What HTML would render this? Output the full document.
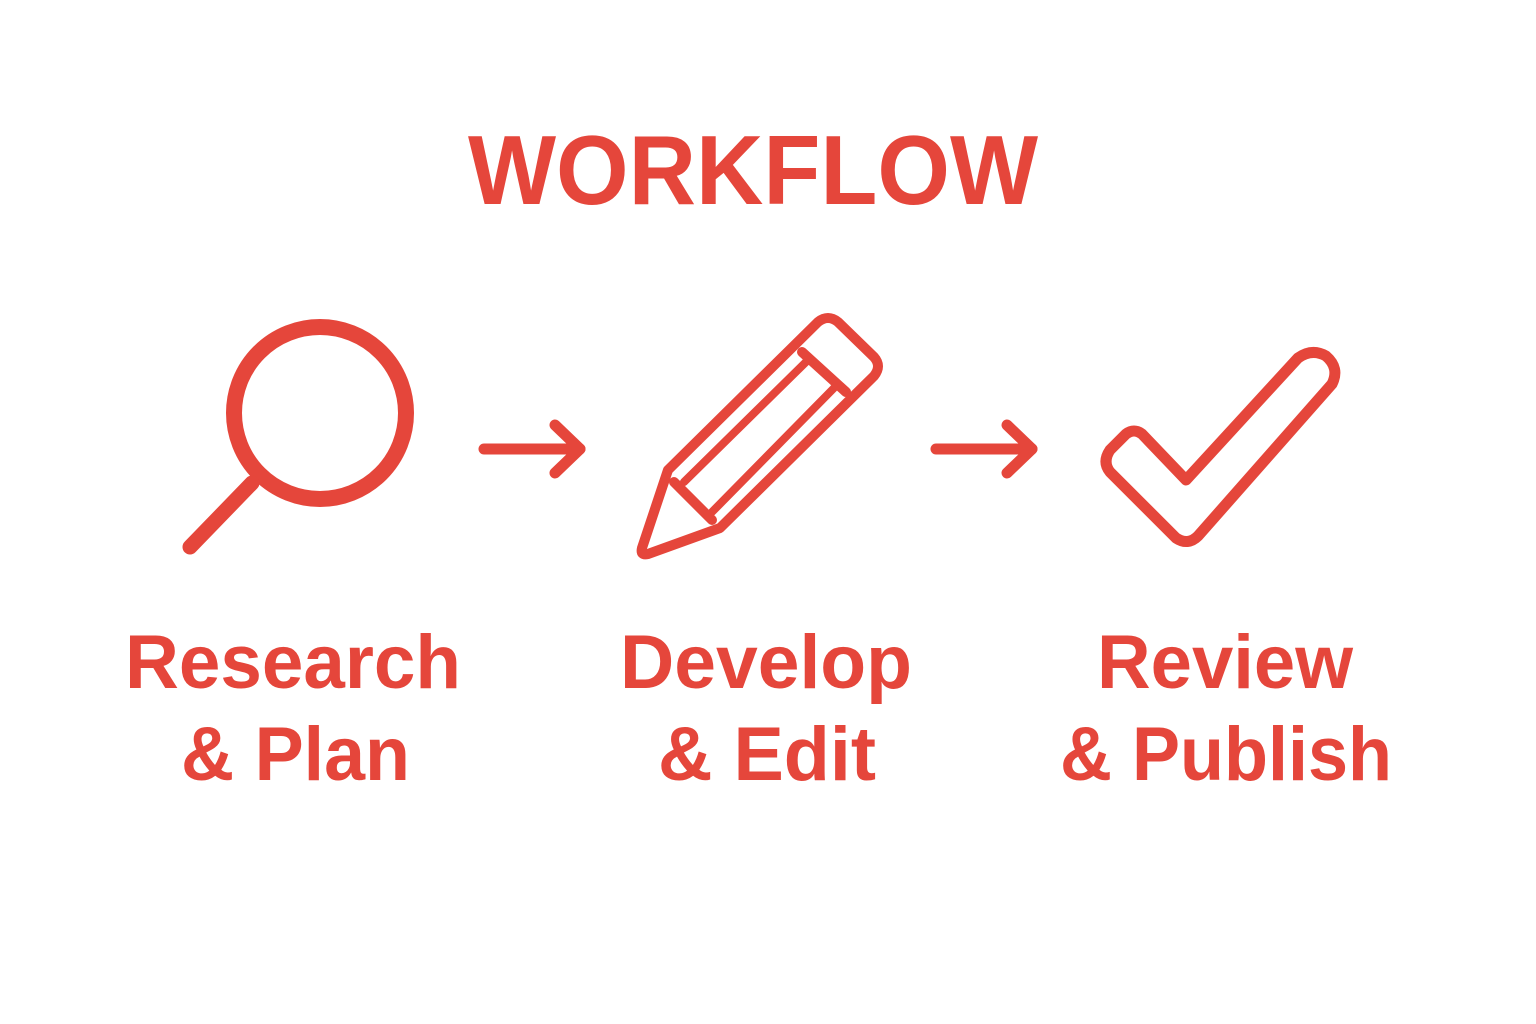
<!DOCTYPE html>
<html>
<head>
<meta charset="utf-8">
<style>
html,body{margin:0;padding:0;background:#fff;}
svg{display:block;}
text{font-family:"Liberation Sans",sans-serif;font-weight:bold;fill:#E5463B;}
</style>
</head>
<body>
<svg width="1536" height="1024" viewBox="0 0 1536 1024" xmlns="http://www.w3.org/2000/svg">
  <text x="468" y="204" font-size="98" textLength="570" lengthAdjust="spacingAndGlyphs">WORKFLOW</text>

  <g fill="none" stroke="#E5463B" stroke-linecap="round" stroke-linejoin="round">
    <!-- magnifier -->
    <circle cx="320" cy="413" r="86" stroke-width="16"/>
    <line x1="252" y1="483" x2="190" y2="547" stroke-width="15"/>

    <!-- arrow 1 -->
    <line x1="484" y1="449" x2="580" y2="449" stroke-width="11"/>
    <polyline points="555,425 580,449 555,473" stroke-width="11"/>

    <!-- pencil -->
    <path d="M668,470 L818,322 Q828,314 838,322 L874,357 Q882,366 874,376 L720,528 L648,554 Q640,556 642,548 Z" stroke-width="10"/>
    <line x1="802" y1="352" x2="846" y2="392" stroke-width="10"/>
    <line x1="684" y1="482" x2="808" y2="360" stroke-width="8"/>
    <line x1="712" y1="512" x2="834" y2="388" stroke-width="8"/>
    <line x1="674" y1="482" x2="712" y2="520" stroke-width="10"/>

    <!-- arrow 2 -->
    <line x1="936" y1="449" x2="1032" y2="449" stroke-width="11"/>
    <polyline points="1007,425 1032,449 1007,473" stroke-width="11"/>

    <!-- check -->
    <path d="M1110,450 L1126,434 Q1134,428 1142,434 L1186,480 L1298,358 Q1312,348 1326,356 Q1340,368 1332,384 L1198,536 Q1188,546 1176,538 L1110,472 Q1102,462 1110,450 Z" stroke-width="11"/>
  </g>

  <text x="125" y="688" font-size="76" textLength="336" lengthAdjust="spacingAndGlyphs">Research</text>
  <text x="181" y="780" font-size="76" textLength="229" lengthAdjust="spacingAndGlyphs">&amp; Plan</text>

  <text x="620" y="688" font-size="76" textLength="292" lengthAdjust="spacingAndGlyphs">Develop</text>
  <text x="658" y="780" font-size="76" textLength="218" lengthAdjust="spacingAndGlyphs">&amp; Edit</text>

  <text x="1097" y="688" font-size="76" textLength="256" lengthAdjust="spacingAndGlyphs">Review</text>
  <text x="1060" y="780" font-size="76" textLength="332" lengthAdjust="spacingAndGlyphs">&amp; Publish</text>
</svg>
</body>
</html>
